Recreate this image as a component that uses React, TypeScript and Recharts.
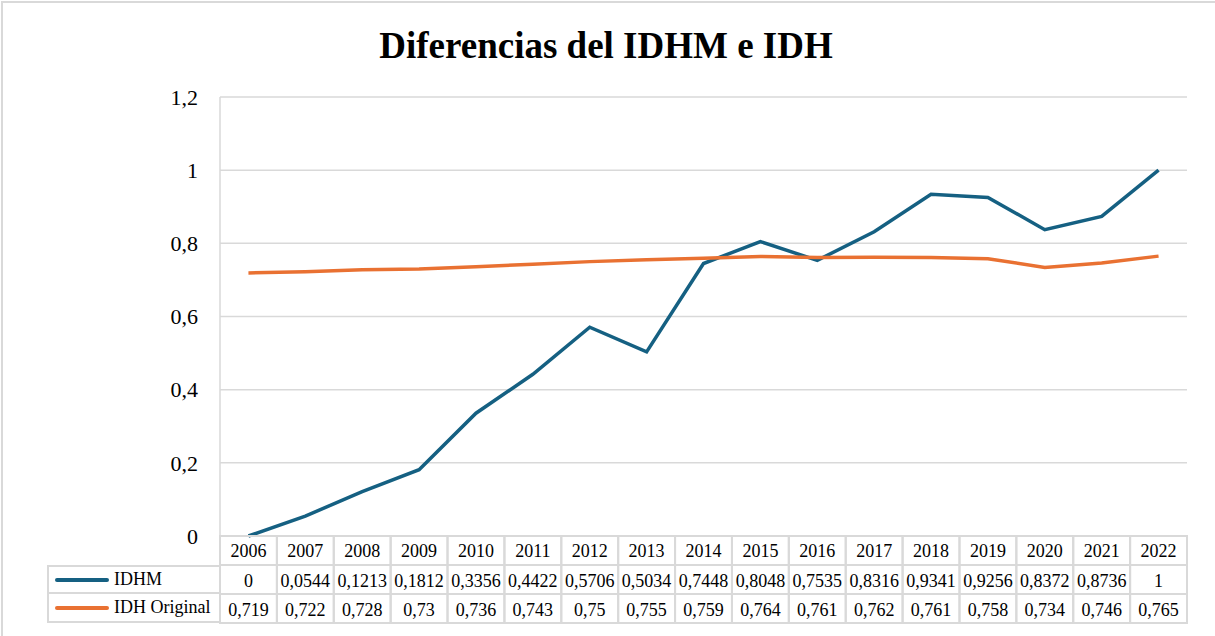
import React from 'react';
import { LineChart, Line, XAxis, YAxis, CartesianGrid } from 'recharts';

// years shown on the category axis / data table header
const years = ['2006', '2007', '2008', '2009', '2010', '2011', '2012', '2013', '2014', '2015', '2016', '2017', '2018', '2019', '2020', '2021', '2022'];

// series values
const idhm = [0, 0.0544, 0.1213, 0.1812, 0.3356, 0.4422, 0.5706, 0.5034, 0.7448, 0.8048, 0.7535, 0.8316, 0.9341, 0.9256, 0.8372, 0.8736, 1];
const idhOriginal = [0.719, 0.722, 0.728, 0.73, 0.736, 0.743, 0.75, 0.755, 0.759, 0.764, 0.761, 0.762, 0.761, 0.758, 0.734, 0.746, 0.765];

const yTicks = [0, 0.2, 0.4, 0.6, 0.8, 1, 1.2];

const series = [
  { key: 'idhm', name: 'IDHM', color: '#156082', values: idhm },
  { key: 'idh', name: 'IDH Original', color: '#E97132', values: idhOriginal },
];

const data = years.map((year, i) => ({ year, idhm: idhm[i], idh: idhOriginal[i] }));

const FONT = '"Liberation Serif", "Times New Roman", serif';
const BORDER = '#d9d9d9';

const WIDTH = 1215;
const HEIGHT = 636;
const PLOT_LEFT = 220;
const PLOT_RIGHT = 1187;
const PLOT_TOP = 97;
const PLOT_BOTTOM = 536;
const COL_W = (PLOT_RIGHT - PLOT_LEFT) / years.length;
const ROW_H = 29;

const fmt = (v: number) => String(v).replace('.', ',');

// every x tick draws one column of the data table
const TableTick = (props: any) => {
  const { x, y, payload } = props;
  const i = payload.index;
  const left = x - COL_W / 2;
  return (
    <g>
      {[0, 1, 2].map((r) => (
        <rect key={r} x={left} y={y + r * ROW_H} width={COL_W} height={ROW_H} fill="none" stroke={BORDER} strokeWidth={2} />
      ))}
      <text x={x} y={y + 21} textAnchor="middle" fontSize={18} fontFamily={FONT} fill="#000">
        {payload.value}
      </text>
      {series.map((s, r) => (
        <text key={s.key} x={x} y={y + ROW_H * (r + 1) + 22} textAnchor="middle" fontSize={18} fontFamily={FONT} fill="#000">
          {fmt(s.values[i])}
        </text>
      ))}
    </g>
  );
};

const App: React.FC = () => {
  return (
    <div style={{ position: 'absolute', left: 0, top: 0, width: WIDTH, height: HEIGHT, background: '#fff', overflow: 'hidden' }}>
      {/* chart frame (only top/left edge visible in the reference) */}
      <div style={{ position: 'absolute', left: 1, top: 1, width: WIDTH + 10, height: HEIGHT + 10, borderTop: `2px solid ${BORDER}`, borderLeft: `2px solid ${BORDER}` }} />

      <div style={{ position: 'absolute', left: 0, top: 26, width: WIDTH - 3, textAlign: 'center', fontFamily: FONT, fontWeight: 'bold', fontSize: 37, lineHeight: '40px', color: '#000' }}>
        Diferencias del IDHM e IDH
      </div>

      <div style={{ position: 'absolute', left: 0, top: 0 }}>
        <LineChart
          width={WIDTH}
          height={HEIGHT}
          data={data}
          margin={{ top: PLOT_TOP, right: WIDTH - PLOT_RIGHT, left: PLOT_LEFT - 60, bottom: 12 }}
        >
          <CartesianGrid vertical={false} stroke={BORDER} strokeWidth={1.5} />
          <XAxis
            dataKey="year"
            interval={0}
            axisLine={false}
            tickLine={false}
            tickSize={0}
            tickMargin={0}
            height={HEIGHT - PLOT_BOTTOM - 12}
            padding={{ left: COL_W / 2, right: COL_W / 2 }}
            tick={(p: any) => <TableTick {...p} />}
          />
          <YAxis
            width={60}
            domain={[0, 1.2]}
            ticks={yTicks}
            tickFormatter={fmt}
            axisLine={{ stroke: BORDER, strokeWidth: 1.5 }}
            tickLine={false}
            tickSize={0}
            tickMargin={22}
            tick={{ fontSize: 22, fontFamily: FONT, fill: '#000' }}
          />
          {series.map((s) => (
            <Line
              key={s.key}
              type="linear"
              dataKey={s.key}
              name={s.name}
              stroke={s.color}
              strokeWidth={3.5}
              dot={false}
              isAnimationActive={false}
            />
          ))}
        </LineChart>
      </div>

      {/* legend column of the data table */}
      <div style={{ position: 'absolute', left: 47, top: PLOT_BOTTOM + ROW_H, width: PLOT_LEFT - 47 }}>
        {series.map((s, r) => (
          <div
            key={s.key}
            style={{
              position: 'absolute',
              left: 0,
              top: r * ROW_H,
              width: PLOT_LEFT - 47,
              height: ROW_H,
              boxSizing: 'border-box',
              border: `2px solid ${BORDER}`,
              borderRight: 'none',
              borderTop: r === 0 ? `2px solid ${BORDER}` : 'none',
              display: 'flex',
              alignItems: 'center',
              fontFamily: FONT,
              fontSize: 18,
              color: '#000',
            }}
          >
            <span style={{ display: 'inline-block', marginLeft: 6, width: 54, height: 4, borderRadius: 2, background: s.color }} />
            <span style={{ marginLeft: 5, whiteSpace: 'nowrap' }}>{s.name}</span>
          </div>
        ))}
      </div>
    </div>
  );
};

export default App;
